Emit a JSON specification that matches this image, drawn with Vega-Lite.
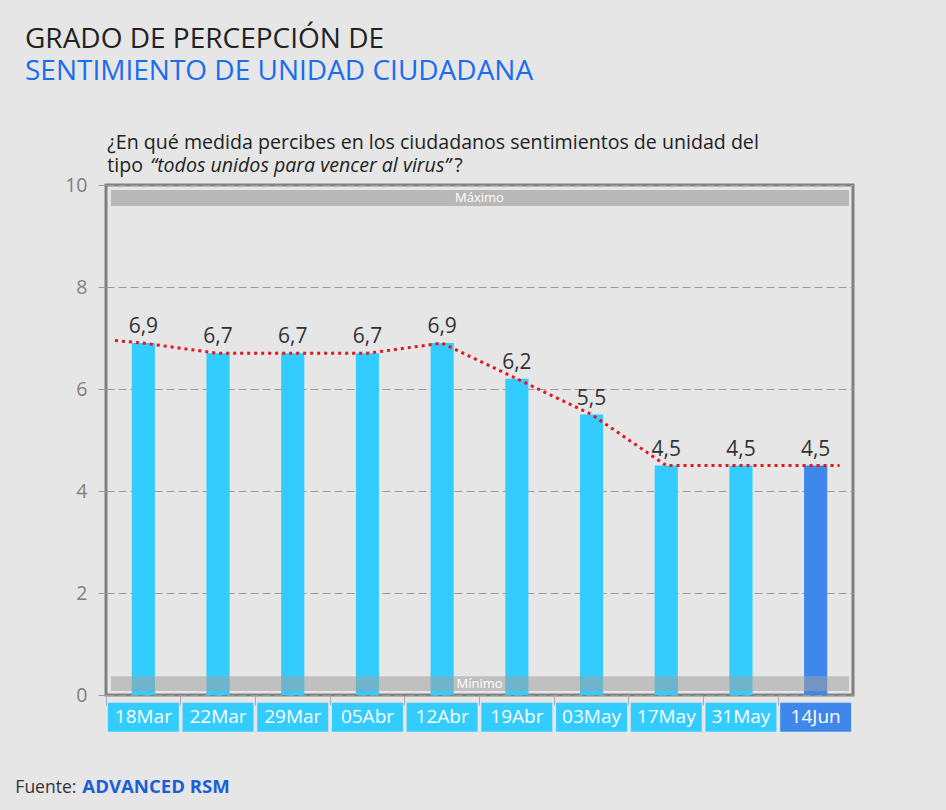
{
  "$schema": "https://vega.github.io/schema/vega-lite/v6.json",
  "width": 747,
  "height": 510,
  "autosize": "none",
  "padding": {"left": 106, "top": 185, "right": 93, "bottom": 115},
  "background": "#e6e6e6",
  "config": {
    "font": "Open Sans",
    "locale": {"number": {"decimal": ",", "thousands": ".", "grouping": [3], "currency": ["", " €"]}},
    "view": {"stroke": "#808080", "strokeWidth": 3}
  },
  "title": {
    "text": "GRADO DE PERCEPCIÓN DE",
    "subtitle": "SENTIMIENTO DE UNIDAD CIUDADANA",
    "anchor": "start",
    "frame": "group",
    "dx": -81,
    "offset": 47,
    "font": "Open Sans",
    "fontSize": 28,
    "fontWeight": "normal",
    "color": "#222222",
    "subtitleFont": "Open Sans",
    "subtitleFontSize": 28,
    "subtitleColor": "#1a6cf0",
    "subtitlePadding": 4
  },
  "datasets": {
    "main": [
      {"fecha": "18Mar", "valor": 6.9},
      {"fecha": "22Mar", "valor": 6.7},
      {"fecha": "29Mar", "valor": 6.7},
      {"fecha": "05Abr", "valor": 6.7},
      {"fecha": "12Abr", "valor": 6.9},
      {"fecha": "19Abr", "valor": 6.2},
      {"fecha": "03May", "valor": 5.5},
      {"fecha": "17May", "valor": 4.5},
      {"fecha": "31May", "valor": 4.5},
      {"fecha": "14Jun", "valor": 4.5}
    ],
    "trend": [
      {"pos": -0.38, "valor": 6.95},
      {"pos": 0, "valor": 6.9},
      {"pos": 1, "valor": 6.7},
      {"pos": 2, "valor": 6.7},
      {"pos": 3, "valor": 6.7},
      {"pos": 4, "valor": 6.9},
      {"pos": 5, "valor": 6.2},
      {"pos": 6, "valor": 5.5},
      {"pos": 7, "valor": 4.5},
      {"pos": 8, "valor": 4.5},
      {"pos": 9, "valor": 4.5},
      {"pos": 9.32, "valor": 4.5}
    ],
    "bandas": [
      {"nombre": "Máximo", "desde": 9.59, "hasta": 9.9, "centro": 9.745, "x0": -0.433, "x1": 9.446, "xc": 4.5},
      {"nombre": "Mínimo", "desde": 0.08, "hasta": 0.37, "centro": 0.225, "x0": -0.433, "x1": 9.446, "xc": 4.5}
    ]
  },
  "resolve": {"scale": {"x": "independent"}, "axis": {"x": "independent"}},
  "layer": [
    {
      "data": {"name": "bandas"},
      "transform": [{"filter": "datum.nombre === 'Máximo'"}],
      "mark": {"type": "bar", "color": "#b8b8b8"},
      "encoding": {
        "x": {"field": "x0", "type": "quantitative", "scale": {"domain": [-0.5, 9.5], "nice": false, "zero": false}, "axis": null},
        "x2": {"field": "x1"},
        "y": {"field": "desde", "type": "quantitative", "title": null},
        "y2": {"field": "hasta"}
      }
    },
    {
      "layer": [
        {
          "data": {"name": "main"},
          "mark": {"type": "bar", "width": {"band": 0.31}},
          "encoding": {
            "x": {
              "field": "fecha", "type": "nominal", "sort": null,
              "scale": {"paddingInner": 0, "paddingOuter": 0},
              "axis": {"labels": false, "title": null, "domain": false, "ticks": true, "tickColor": "#aaaaaa", "tickSize": 10, "tickWidth": 1, "bandPosition": 0, "grid": false}
            },
            "y": {
              "field": "valor", "type": "quantitative",
              "scale": {"domain": [0, 10], "nice": false},
              "axis": {"values": [0, 2, 4, 6, 8, 10], "title": null, "domain": false, "labelFontSize": 19.5, "labelColor": "#808080", "labelPadding": 11, "tickColor": "#999999", "tickSize": 8, "grid": true, "gridColor": "#9a9a9a", "gridDash": [8, 4], "gridWidth": 1}
            },
            "color": {"condition": {"test": "datum.fecha === '14Jun'", "value": "#3f87ea"}, "value": "#33ccff"}
          }
        },
        {
          "data": {"name": "main"},
          "mark": {"type": "bar", "width": {"band": 0.95}},
          "encoding": {
            "x": {"field": "fecha", "type": "nominal", "sort": null, "title": null},
            "y": {"datum": -0.15, "type": "quantitative", "title": null},
            "y2": {"datum": -0.72},
            "color": {"condition": {"test": "datum.fecha === '14Jun'", "value": "#3f87ea"}, "value": "#33ccff"}
          }
        },
        {
          "data": {"name": "main"},
          "mark": {"type": "text", "color": "#ffffff", "fontSize": 19, "baseline": "middle"},
          "encoding": {
            "x": {"field": "fecha", "type": "nominal", "sort": null, "title": null},
            "y": {"datum": -0.435, "type": "quantitative", "title": null},
            "text": {"field": "fecha"}
          }
        },
        {
          "data": {"name": "main"},
          "mark": {"type": "text", "color": "#333333", "fontSize": 21, "baseline": "alphabetic", "dy": -10},
          "encoding": {
            "x": {"field": "fecha", "type": "nominal", "sort": null, "title": null},
            "y": {"field": "valor", "type": "quantitative", "title": null},
            "text": {"field": "valor", "type": "quantitative", "format": ".1f"}
          }
        },
        {
          "data": {"values": [{"texto": "¿En qué medida percibes en los ciudadanos sentimientos de unidad del"}]},
          "mark": {"type": "text", "align": "left", "baseline": "alphabetic", "fontSize": 19.6, "color": "#222222", "dx": -36},
          "encoding": {
            "x": {"datum": "18Mar", "type": "nominal", "title": null},
            "y": {"datum": 10.706, "type": "quantitative", "title": null},
            "text": {"field": "texto"}
          }
        },
        {
          "data": {"values": [{"texto": "tipo"}]},
          "mark": {"type": "text", "align": "left", "baseline": "alphabetic", "fontSize": 19.6, "color": "#222222", "dx": -36},
          "encoding": {
            "x": {"datum": "18Mar", "type": "nominal", "title": null},
            "y": {"datum": 10.255, "type": "quantitative", "title": null},
            "text": {"field": "texto"}
          }
        },
        {
          "data": {"values": [{"texto": "“todos unidos para vencer al virus”"}]},
          "mark": {"type": "text", "align": "left", "baseline": "alphabetic", "fontSize": 19.6, "fontStyle": "italic", "color": "#222222", "dx": 7},
          "encoding": {
            "x": {"datum": "18Mar", "type": "nominal", "title": null},
            "y": {"datum": 10.255, "type": "quantitative", "title": null},
            "text": {"field": "texto"}
          }
        },
        {
          "data": {"values": [{"texto": "?"}]},
          "mark": {"type": "text", "align": "left", "baseline": "alphabetic", "fontSize": 19.6, "color": "#222222", "dx": 311},
          "encoding": {
            "x": {"datum": "18Mar", "type": "nominal", "title": null},
            "y": {"datum": 10.255, "type": "quantitative", "title": null},
            "text": {"field": "texto"}
          }
        },
        {
          "data": {"values": [{"texto": "Fuente:"}]},
          "mark": {"type": "text", "align": "left", "baseline": "alphabetic", "fontSize": 17.5, "color": "#333333", "dx": -128},
          "encoding": {
            "x": {"datum": "18Mar", "type": "nominal", "title": null},
            "y": {"datum": -1.93, "type": "quantitative", "title": null},
            "text": {"field": "texto"}
          }
        },
        {
          "data": {"values": [{"texto": "ADVANCED RSM"}]},
          "mark": {"type": "text", "align": "left", "baseline": "alphabetic", "fontSize": 18.6, "fontWeight": "bold", "color": "#1a5fd8", "dx": -61},
          "encoding": {
            "x": {"datum": "18Mar", "type": "nominal", "title": null},
            "y": {"datum": -1.93, "type": "quantitative", "title": null},
            "text": {"field": "texto"}
          }
        }
      ]
    },
    {
      "layer": [
        {
          "data": {"name": "trend"},
          "mark": {"type": "line", "color": "#e3151d", "strokeWidth": 3, "strokeDash": [3, 4]},
          "encoding": {
            "x": {"field": "pos", "type": "quantitative", "scale": {"domain": [-0.5, 9.5], "nice": false, "zero": false}, "axis": null},
            "y": {"field": "valor", "type": "quantitative", "title": null}
          }
        },
        {
          "data": {"name": "bandas"},
          "transform": [{"filter": "datum.nombre === 'Mínimo'"}],
          "mark": {"type": "bar", "color": "#a0a0a0", "opacity": 0.55},
          "encoding": {
            "x": {"field": "x0", "type": "quantitative", "scale": {"domain": [-0.5, 9.5], "nice": false, "zero": false}, "axis": null},
            "x2": {"field": "x1"},
            "y": {"field": "desde", "type": "quantitative", "title": null},
            "y2": {"field": "hasta"}
          }
        },
        {
          "data": {"name": "bandas"},
          "mark": {"type": "text", "color": "#ffffff", "fontSize": 13, "baseline": "middle"},
          "encoding": {
            "x": {"field": "xc", "type": "quantitative", "scale": {"domain": [-0.5, 9.5], "nice": false, "zero": false}, "axis": null},
            "y": {"field": "centro", "type": "quantitative", "title": null},
            "text": {"field": "nombre"}
          }
        }
      ]
    }
  ]
}
